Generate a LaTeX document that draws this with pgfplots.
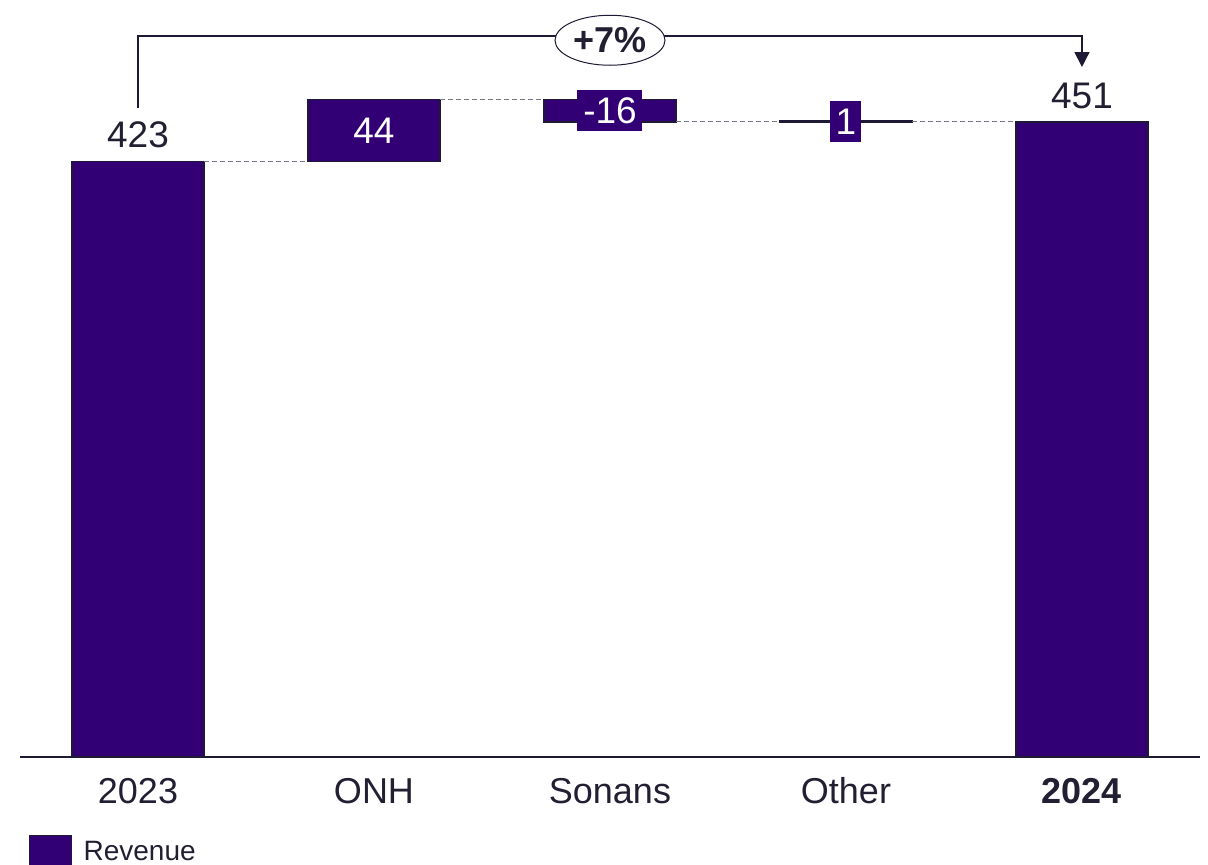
\documentclass[border=0pt]{standalone}
\usepackage{pgfplots}
\pgfplotsset{compat=1.18}
\usepackage{fontspec}
\setmainfont{Liberation Sans}
\usetikzlibrary{shapes.geometric,arrows.meta}
\definecolor{barc}{RGB}{50,0,116}
\definecolor{edgec}{RGB}{30,25,52}
\definecolor{txtc}{RGB}{35,31,51}
\definecolor{dashc}{RGB}{120,120,132}
\begin{document}
\begin{tikzpicture}
\useasboundingbox (0,0) rectangle (1208bp,865bp);
\begin{axis}[
  at={(20bp,108bp)}, anchor=south west, scale only axis,
  width=1180bp, height=757bp,
  xmin=-0.5, xmax=4.5, ymin=0, ymax=537.6,
  ybar stacked, bar width=132bp,
  axis x line=bottom, axis y line=none,
  axis line style={-, draw=edgec, line width=1.2bp},
  xtick={0,1,2,3,4},
  xticklabels={2023,ONH,Sonans,Other,\textbf{2024}},
  major tick length=0pt,
  xticklabel style={font=\fontsize{36bp}{40bp}\selectfont, text=txtc, anchor=base, yshift=-46bp},
  clip=false,
  legend style={at={(0.005,-0.1)}, anchor=north west, draw=none, fill=none,
    font=\fontsize{28bp}{32bp}\selectfont, text=txtc},
  legend cell align=left,
]
\addplot[draw=none, fill=none, forget plot] coordinates {(0,0) (1,423) (2,451) (3,451) (4,0)};
\addplot[fill=barc, draw=edgec, line width=1.2bp,
  legend image code/.code={\draw[fill=barc, draw=edgec, line width=1bp] (0bp,-16bp) rectangle (42bp,16bp); \path[draw=none, fill=none] (0bp,0bp) -- (52bp,0bp);}]
  coordinates {(0,423) (1,44) (2,16) (3,1) (4,451)};
\legend{Revenue}
\end{axis}
\begin{axis}[
  at={(20bp,108bp)}, anchor=south west, scale only axis,
  width=1180bp, height=757bp,
  xmin=-0.5, xmax=4.5, ymin=0, ymax=537.6,
  hide axis, clip=false,
]
\addplot[dashc, dash pattern=on 5bp off 3bp, line width=1bp] coordinates {(0.28,423) (0.72,423)};
\addplot[dashc, dash pattern=on 5bp off 3bp, line width=1bp] coordinates {(1.28,467) (1.72,467)};
\addplot[dashc, dash pattern=on 5bp off 3bp, line width=1bp] coordinates {(2.28,451) (2.72,451)};
\addplot[dashc, dash pattern=on 5bp off 3bp, line width=1bp] coordinates {(3.28,451) (3.72,451)};
\addplot[edgec, line width=1.5bp, -{Triangle[width=15bp,length=15bp]}] coordinates {(0,461) (0,512) (4,512) (4,490)};
\node[text=txtc, font=\fontsize{37bp}{44bp}\selectfont] at (axis cs:0,442) {423};
\node[text=txtc, font=\fontsize{37bp}{44bp}\selectfont] at (axis cs:4,469.5) {451};
\node[text=white, font=\fontsize{37bp}{44bp}\selectfont] at (axis cs:1,445) {44};
\node[fill=barc, text=white, minimum width=65bp, minimum height=41bp, inner sep=0pt,
  font=\fontsize{37bp}{44bp}\selectfont] at (axis cs:2,459) {-16};
\node[fill=barc, text=white, minimum width=31bp, minimum height=41bp, inner sep=0pt,
  font=\fontsize{37bp}{44bp}\selectfont] at (axis cs:3,451) {1};
\node[draw=edgec, fill=white, ellipse, minimum width=110bp, minimum height=50bp, inner sep=0pt,
  line width=1bp, text=txtc, font=\bfseries\fontsize{36bp}{44bp}\selectfont] at (axis cs:2,509) {+7\%};
\end{axis}
\end{tikzpicture}
\end{document}
